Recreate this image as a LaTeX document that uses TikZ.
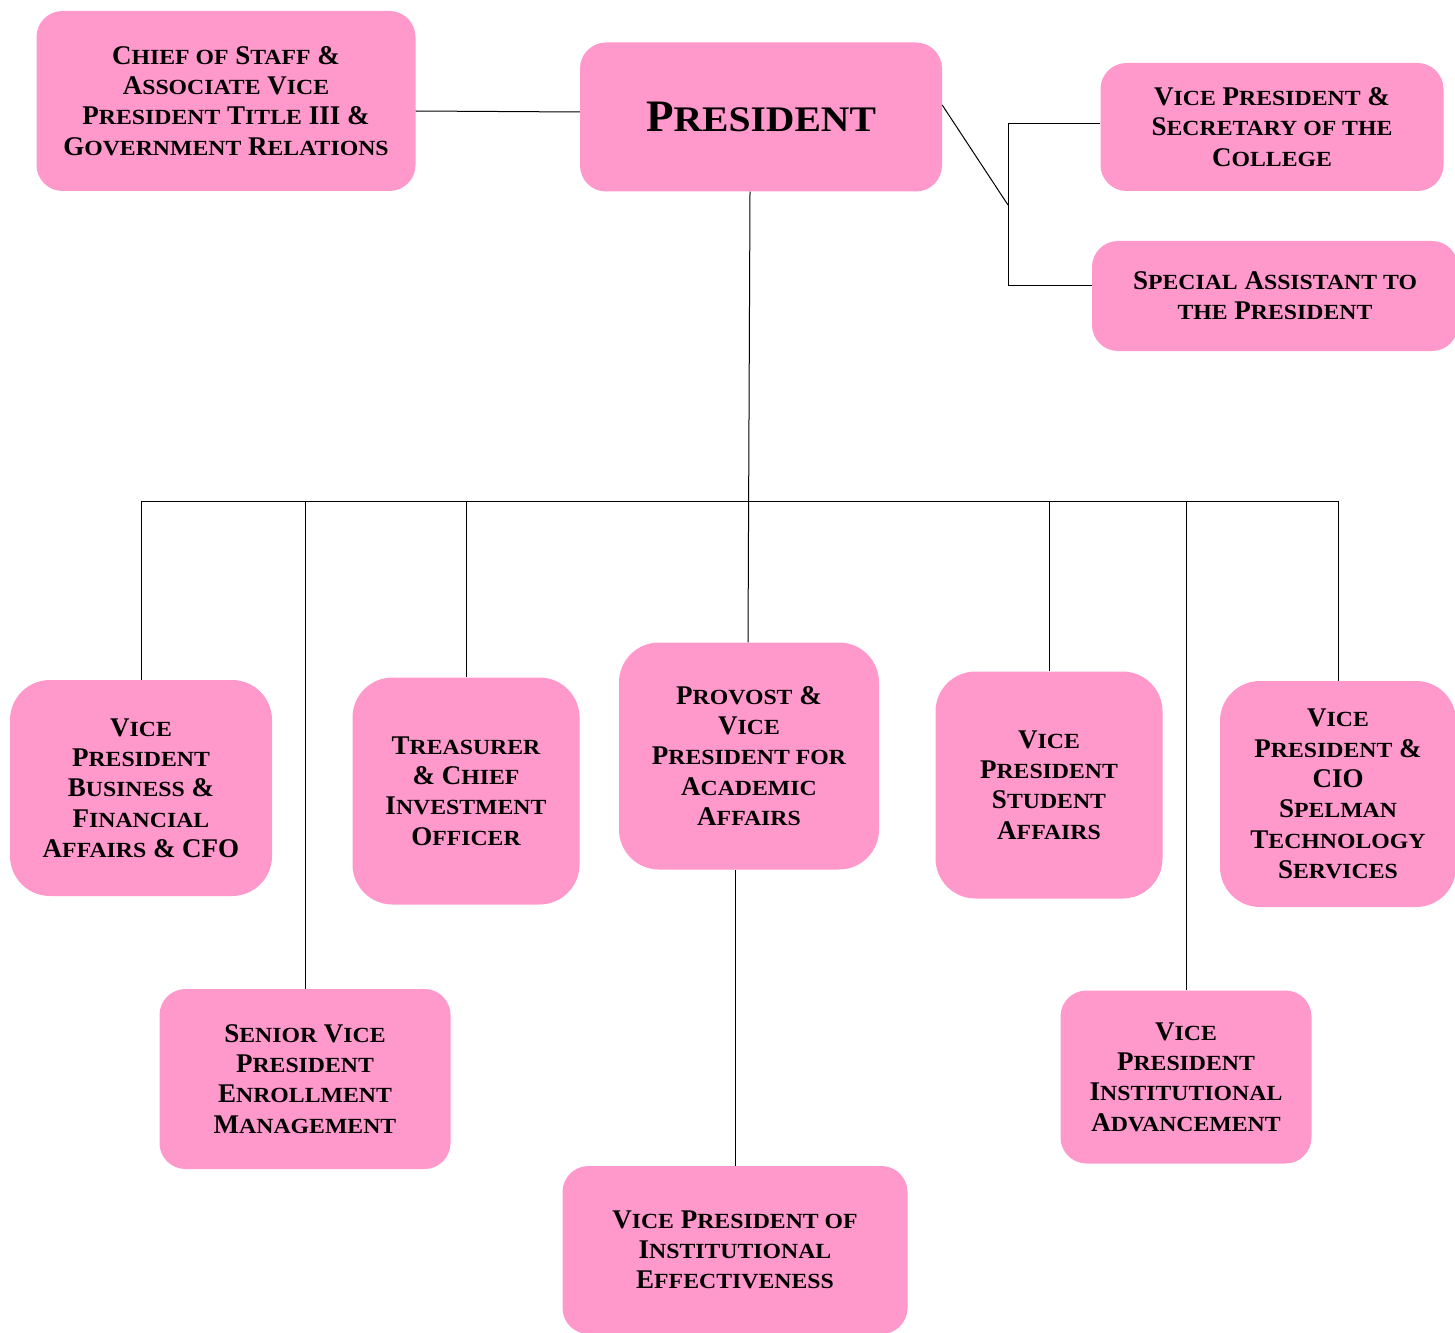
\documentclass[tikz,border=0pt]{standalone}
\usepackage{graphicx}
\usepackage{fontspec}
\setmainfont{Liberation Serif}
\usepackage{tikz}
\usetikzlibrary{positioning}
\definecolor{unitpink}{HTML}{FF99CC}
\newcommand\lc[1]{\scalebox{0.88}[0.8]{#1}}
\tikzset{
        unit/.style={fill=unitpink, rounded corners=26pt, inner sep=0pt,
                     align=center, font=\fontsize{27}{30.3}\selectfont\bfseries},
        tallunit/.style={unit, rounded corners=40pt},
        link/.style={line width=1pt},
 }
\begin{document}
\begin{tikzpicture}[x=1pt, y=-1pt]
    \useasboundingbox (0,0) rectangle (1455,1332);
    % top row
    \node[unit, minimum width=379, minimum height=180] (chief) at (226,101)
        {C\lc{HIEF OF} S\lc{TAFF} \&\\A\lc{SSOCIATE} V\lc{ICE}\\P\lc{RESIDENT} T\lc{ITLE} III \&\\G\lc{OVERNMENT} R\lc{ELATIONS}};
    \node[unit, minimum width=362, minimum height=149,
          font=\fontsize{45}{50}\selectfont\bfseries] (pres) at (761,117)
        {P\lc{RESIDENT}};
    \node[unit, minimum width=343, minimum height=128] (sec) at (1272,127)
        {V\lc{ICE} P\lc{RESIDENT} \&\\S\lc{ECRETARY OF THE}\\C\lc{OLLEGE}};
    \node[unit, minimum width=366, minimum height=110] (spec) at (1275,296)
        {S\lc{PECIAL} A\lc{SSISTANT TO}\\\lc{THE} P\lc{RESIDENT}};
    % middle row
    \node[tallunit, minimum width=262, minimum height=216] (vpbf) at (141,788)
        {V\lc{ICE}\\P\lc{RESIDENT}\\B\lc{USINESS} \&\\F\lc{INANCIAL}\\A\lc{FFAIRS} \& CFO};
    \node[tallunit, minimum width=227, minimum height=227] (treas) at (466,791)
        {T\lc{REASURER}\\\& C\lc{HIEF}\\I\lc{NVESTMENT}\\O\lc{FFICER}};
    \node[tallunit, minimum width=260, minimum height=227] (prov) at (749,756)
        {P\lc{ROVOST} \&\\V\lc{ICE}\\P\lc{RESIDENT FOR}\\A\lc{CADEMIC}\\A\lc{FFAIRS}};
    \node[tallunit, minimum width=227, minimum height=227] (student) at (1049,785)
        {V\lc{ICE}\\P\lc{RESIDENT}\\S\lc{TUDENT}\\A\lc{FFAIRS}};
    \node[tallunit, minimum width=236, minimum height=226] (cio) at (1338,794)
        {V\lc{ICE}\\P\lc{RESIDENT} \&\\CIO\\S\lc{PELMAN}\\T\lc{ECHNOLOGY}\\S\lc{ERVICES}};
    % bottom row
    \node[unit, minimum width=291, minimum height=180] (senior) at (305,1079)
        {S\lc{ENIOR} V\lc{ICE}\\P\lc{RESIDENT}\\E\lc{NROLLMENT}\\M\lc{ANAGEMENT}};
    \node[unit, minimum width=251, minimum height=173] (adv) at (1186,1077)
        {V\lc{ICE}\\P\lc{RESIDENT}\\I\lc{NSTITUTIONAL}\\A\lc{DVANCEMENT}};
    \node[unit, minimum width=345, minimum height=168] (eff) at (735,1250)
        {V\lc{ICE} P\lc{RESIDENT OF}\\I\lc{NSTITUTIONAL}\\E\lc{FFECTIVENESS}};

    \coordinate (fork) at (1008,205);
    \coordinate (bus) at (748,501);

    \draw[link] ([yshift=-10pt]chief.east) -- ([yshift=5pt]pres.west);
    \draw[link] ([yshift=12pt]pres.east) -- (fork);
    \draw[link] ([yshift=3pt]sec.west) -| (fork) |- ([yshift=11pt]spec.west);
    \draw[link] ([xshift=-11pt]pres.south) -- ([xshift=-1pt]prov.north);
    \draw[link] (vpbf.north |- bus) -- (cio.north |- bus);
    \foreach \n in {vpbf,senior,treas,student,adv,cio}
        \draw[link] (\n.north) -- (\n.north |- bus);
    \draw[link] (eff.north) -- (eff.north |- prov.south);
\end{tikzpicture}
\end{document}
